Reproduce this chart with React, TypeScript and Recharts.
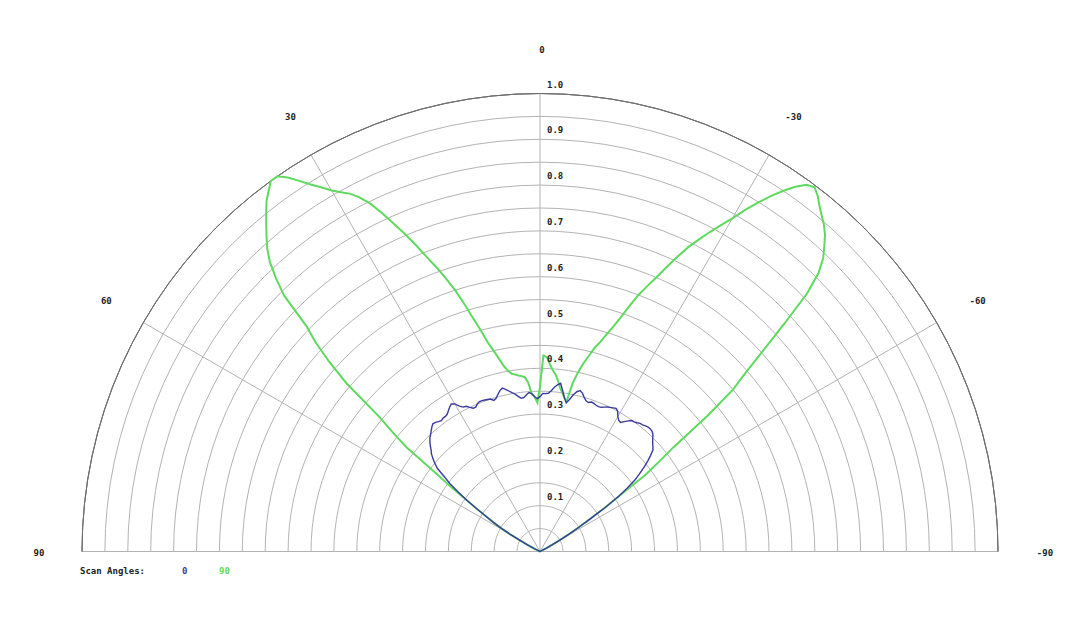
import { Legend, PolarAngleAxis, PolarGrid, PolarRadiusAxis, Radar, RadarChart } from "recharts"

// beam angle in degrees, left (+90) to right (-90)
const angles = [
  90, 65, 64, 63, 62, 61, 60, 59, 58, 57, 56, 55, 54, 53, 52, 51, 50, 49, 48, 47, 46, 45, 44, 43, 42, 41,
  40, 39, 38, 37, 36, 35, 34, 33, 32, 31, 30, 29, 28, 27, 26, 25, 24, 23, 22, 21, 20, 19, 18, 17, 16, 15,
  14, 13, 12, 11, 10, 9, 8, 7, 6, 5, 4, 3, 2, 1, 0, -1, -2, -3, -4, -5, -6, -7, -8, -9, -10, -11, -12,
  -13, -14, -15, -16, -17, -18, -19, -20, -21, -22, -23, -24, -25, -26, -27, -28, -29, -30, -31, -32, -33,
  -34, -35, -36, -37, -38, -39, -40, -41, -42, -43, -44, -45, -46, -47, -48, -49, -50, -51, -52, -53, -54,
  -55, -56, -57, -58, -59, -60, -61, -62, -63, -64, -65, -90,
]

// scan angle 0
const scan0 = [
  0, 0, 0.005, 0.015, 0.03, 0.05, 0.075, 0.1, 0.12, 0.14, 0.165, 0.195, 0.22, 0.246, 0.265, 0.288, 0.3,
  0.31, 0.319, 0.325, 0.333, 0.34, 0.346, 0.35, 0.355, 0.36, 0.364, 0.363, 0.36, 0.358, 0.36, 0.36, 0.362,
  0.367, 0.372, 0.376, 0.372, 0.363, 0.357, 0.356, 0.35, 0.345, 0.345, 0.35, 0.353, 0.353, 0.352, 0.351,
  0.35, 0.345, 0.348, 0.355, 0.362, 0.366, 0.362, 0.357, 0.352, 0.348, 0.342, 0.337, 0.338, 0.343, 0.348,
  0.345, 0.338, 0.334, 0.338, 0.345, 0.345, 0.346, 0.352, 0.36, 0.366, 0.37, 0.355, 0.34, 0.33, 0.338,
  0.35, 0.358, 0.362, 0.358, 0.35, 0.344, 0.342, 0.345, 0.344, 0.342, 0.341, 0.342, 0.345, 0.348, 0.35,
  0.352, 0.354, 0.35, 0.34, 0.334, 0.332, 0.338, 0.344, 0.349, 0.35, 0.352, 0.355, 0.356, 0.358, 0.36,
  0.36, 0.359, 0.355, 0.348, 0.342, 0.337, 0.332, 0.32, 0.307, 0.292, 0.276, 0.26, 0.235, 0.21, 0.17,
  0.13, 0.1, 0.075, 0.05, 0.03, 0.015, 0.005, 0, 0, 0,
]

// scan angle 90
const scan90 = [
  0, 0, 0.005, 0.015, 0.03, 0.05, 0.075, 0.1, 0.12, 0.14, 0.165, 0.195, 0.24, 0.29, 0.37, 0.415, 0.46,
  0.56, 0.62, 0.67, 0.71, 0.79, 0.83, 0.865, 0.89, 0.91, 0.93, 0.95, 0.97, 0.985, 1.0, 1.0, 0.985, 0.965,
  0.945, 0.928, 0.91, 0.897, 0.885, 0.868, 0.845, 0.815, 0.782, 0.752, 0.72, 0.688, 0.66, 0.63, 0.6,
  0.565, 0.53, 0.5, 0.47, 0.45, 0.43, 0.412, 0.4, 0.393, 0.39, 0.387, 0.385, 0.382, 0.37, 0.345, 0.338,
  0.325, 0.36, 0.428, 0.425, 0.41, 0.397, 0.388, 0.375, 0.36, 0.35, 0.34, 0.332, 0.375, 0.4, 0.422, 0.44,
  0.46, 0.475, 0.495, 0.515, 0.54, 0.57, 0.6, 0.625, 0.65, 0.68, 0.71, 0.74, 0.765, 0.79, 0.815, 0.84,
  0.87, 0.898, 0.925, 0.95, 0.972, 0.99, 0.996, 0.985, 0.97, 0.957, 0.945, 0.93, 0.91, 0.89, 0.86, 0.81,
  0.73, 0.655, 0.595, 0.55, 0.47, 0.37, 0.325, 0.285, 0.21, 0.17, 0.13, 0.1, 0.075, 0.05, 0.03, 0.015,
  0.005, 0, 0, 0,
]

const angleTicks = [90, 60, 30, 0, -30, -60, -90]
const radiusTicks = [
  0.05, 0.1, 0.15, 0.2, 0.25, 0.3, 0.35, 0.4, 0.45, 0.5, 0.55, 0.6, 0.65, 0.7, 0.75, 0.8, 0.85, 0.9, 0.95, 1.0,
]
const radiusLabels = ["0.1", "0.2", "0.3", "0.4", "0.5", "0.6", "0.7", "0.8", "0.9", "1.0"]

const data = angles.map((angle, i) => ({ angle, scan0: scan0[i], scan90: scan90[i] }))

// layout of the half disc
const CX = 540
const CY = 551.5
const OUTER_R = 458

// chart angles (counter-clockwise from 3 o'clock) used to draw the half circles
const arc = Array.from({ length: 61 }, (_, i) => i * 3)
const arcThereAndBack = [...arc, ...arc.slice().reverse()]
const spokes = [30, 60, 90, 120, 150]

const FONT = "'DejaVu Sans Mono', monospace"
const BLUE = "#3b3b9e"
const GREEN = "#5fd95f"

function RadiusTick(props: any) {
  const { x, y, payload } = props
  const label = payload.value.toFixed(1)
  if (!radiusLabels.includes(label) || Math.abs(payload.value * 10 - Math.round(payload.value * 10)) > 1e-6) return null
  return (
    <text x={x + 7} y={y - 6} fontFamily={FONT} fontSize={9} fontWeight="bold" fill="#222" textAnchor="start">
      {label}
    </text>
  )
}

function AngleTick(props: any) {
  const { x, y, payload } = props
  return (
    <text x={x + 2} y={y + 4} fontFamily={FONT} fontSize={9} fontWeight="bold" fill="#222" textAnchor="middle">
      {payload.value}
    </text>
  )
}

function LegendContent(props: any) {
  const items = [...(props.payload || [])].sort((a: any, b: any) => Number(a.value) - Number(b.value))
  return (
    <div style={{ fontFamily: FONT, fontSize: 9, fontWeight: "bold", color: "#222", display: "flex", whiteSpace: "nowrap" }}>
      <span style={{ width: 102 }}>Scan Angles:</span>
      {items.map((item: any) => (
        <span key={item.value} style={{ width: 37, color: item.color }}>
          {item.value}
        </span>
      ))}
    </div>
  )
}

export default function App() {
  return (
    <div style={{ width: 1080, height: 637, background: "#fff", position: "relative" }}>
      <style>{"body{margin:0}"}</style>
      <RadarChart
        width={1080}
        height={637}
        data={data}
        cx={CX}
        cy={CY}
        outerRadius={OUTER_R}
        startAngle={0}
        endAngle={180}
        margin={{ top: 0, right: 0, bottom: 0, left: 0 }}
      >
        <PolarGrid gridType="polygon" polarAngles={arc} radialLines={false} stroke="#b3b3b3" />
        <PolarGrid polarAngles={spokes} polarRadius={[]} stroke="#b3b3b3" />
        <PolarGrid gridType="polygon" polarAngles={arcThereAndBack} polarRadius={[OUTER_R]} radialLines={false} stroke="#6e6e6e" />
        <PolarAngleAxis
          type="number"
          dataKey="angle"
          domain={[-90, 90]}
          ticks={angleTicks}
          axisLine={false}
          tickLine={false}
          tickSize={45}
          tick={AngleTick}
        />
        <PolarRadiusAxis angle={90} type="number" domain={[0, 1]} ticks={radiusTicks} axisLine={false} tick={RadiusTick} />
        <Radar name="90" dataKey="scan90" stroke={GREEN} strokeWidth={2} fill="none" fillOpacity={0} dot={false} isAnimationActive={false} />
        <Radar name="0" dataKey="scan0" stroke={BLUE} strokeWidth={1.4} fill="none" fillOpacity={0} dot={false} isAnimationActive={false} />
        <Legend content={LegendContent} wrapperStyle={{ left: 80, top: 566, width: 300, height: 14 }} />
      </RadarChart>
    </div>
  )
}
